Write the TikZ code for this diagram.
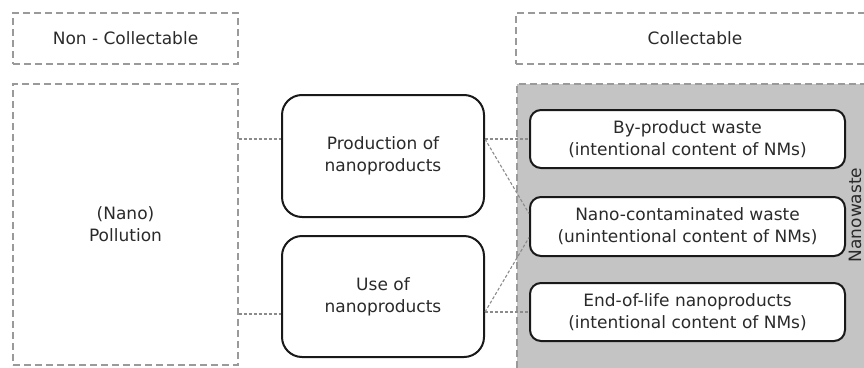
\documentclass[tikz,border=0pt]{standalone}
\usepackage{fontspec}
\setmainfont{DejaVu Sans}
\usetikzlibrary{calc}
\definecolor{txt}{HTML}{2A2A2A}
\definecolor{dashgray}{HTML}{9A9A9A}
\definecolor{wastegray}{HTML}{C4C4C4}
\begin{document}
\begin{tikzpicture}[x=1pt,y=-1pt,
  every node/.style={font=\fontsize{17}{22}\selectfont, text=txt, align=center, inner sep=0pt},
  dashbox/.style={draw=dashgray, line width=1.4pt, dash pattern=on 7pt off 4pt},
  midbox/.style={draw=black!90, line width=2pt, rounded corners=20pt, fill=white},
  wastebox/.style={draw=black!90, line width=2pt, rounded corners=11pt, fill=white},
  conn/.style={draw=dashgray!90!black, line width=1.1pt, dash pattern=on 3pt off 2pt}]
\useasboundingbox (0,0) rectangle (864,367);
\clip (0,0) rectangle (864,367);
% gray nanowaste area
\fill[wastegray] (517,84) rectangle (890,390);
\draw[dashbox] (517,390) -- (517,84) -- (890,84);
% headers
\node[dashbox, minimum width=225pt, minimum height=51pt] (noncol) at (125.5,38.5) {Non - Collectable};
\node[dashbox, minimum width=358pt, minimum height=51pt] (col) at (695,38.5) {Collectable};
% pollution
\node[dashbox, minimum width=225pt, minimum height=281pt] (poll) at (125.5,224.5) {(Nano)\\Pollution};
% middle boxes
\node[midbox, minimum width=202pt, minimum height=122pt] (prod) at (383,156) {Production of\\nanoproducts};
\node[midbox, minimum width=202pt, minimum height=121pt] (use) at (383,296.5) {Use of\\nanoproducts};
% waste boxes
\node[wastebox, minimum width=315pt, minimum height=58pt] (byp) at (687.5,139) {By-product waste\\(intentional content of NMs)};
\node[wastebox, minimum width=315pt, minimum height=59pt] (nano) at (687.5,226.5) {Nano-contaminated waste\\(unintentional content of NMs)};
\node[wastebox, minimum width=315pt, minimum height=58pt] (endl) at (687.5,312) {End-of-life nanoproducts\\(intentional content of NMs)};
\node[rotate=90, font=\fontsize{17}{20}\selectfont] (nw) at (855,215) {Nanowaste};
% connectors
\coordinate (pa) at (byp.west -| prod.east);
\coordinate (ua) at (endl.west -| use.east);
\draw[conn] (byp.west -| poll.east) -- (byp.west -| prod.west);
\draw[conn] ([yshift=-2pt]endl.west -| poll.east) -- ([yshift=-2pt]endl.west -| use.west);
\draw[conn] (pa) -- (byp.west);
\draw[conn] (ua) -- (endl.west);
\draw[conn] (pa) -- ([yshift=13pt]nano.west);
\draw[conn] (ua) -- ([yshift=-11pt]nano.west);
\end{tikzpicture}
\end{document}
